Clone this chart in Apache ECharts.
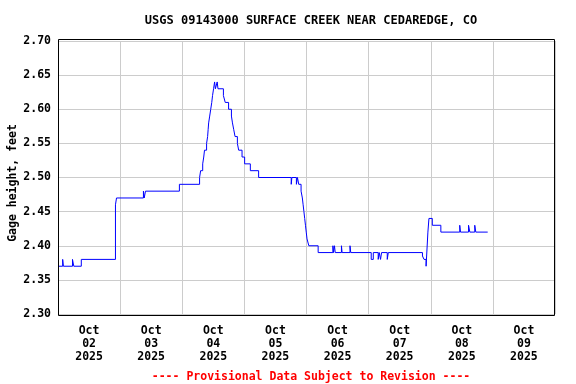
<!DOCTYPE html>
<html>
<head>
<meta charset="utf-8">
<script src="https://cdn.jsdelivr.net/npm/echarts@6/dist/echarts.min.js"></script>
<style>html,body{margin:0;padding:0;background:#fff}#c{width:576px;height:384px}</style>
</head>
<body>
<div id="c"></div>
<script>
const dayLabels = ['Oct\n02\n2025','Oct\n03\n2025','Oct\n04\n2025','Oct\n05\n2025','Oct\n06\n2025','Oct\n07\n2025','Oct\n08\n2025','Oct\n09\n2025'];
const yTicks = [2.30, 2.35, 2.40, 2.45, 2.50, 2.55, 2.60, 2.65, 2.70];
// hours since Oct 02 2025 00:00, gage height (ft)
const hours = [0,1.8,2.1,5.6,6.1,9.0,22.2,22.6,33.0,33.3,33.8,46.9,54.7,55.1,55.9,56.3,56.6,57.4,57.8,58.0,58.2,58.6,59.0,59.4,59.7,60.1,60.5,60.8,61.5,61.8,63.9,64.6,65.9,67.0,67.4,67.9,68.4,69.3,69.8,71.1,72.1,74.3,77.5,90.1,90.35,92.1,92.5,93.0,93.9,94.4,94.7,95.0,95.3,95.6,95.9,96.2,96.9,100.5,106.2,106.45,106.8,107.1,109.5,109.75,112.8,113.1,121.0,121.8,123.7,124.1,124.6,125.0,127.2,127.6,140.8,141.4,142.2,142.9,143.3,144.6,147.9,155.2,155.5,158.6,159.1,161.0,161.4,166.0];
const heights = [2.37,2.38,2.37,2.38,2.37,2.38,2.46,2.47,2.48,2.47,2.48,2.49,2.50,2.51,2.52,2.53,2.54,2.55,2.56,2.57,2.58,2.59,2.60,2.61,2.62,2.63,2.64,2.63,2.64,2.63,2.62,2.61,2.60,2.59,2.58,2.57,2.56,2.55,2.54,2.53,2.52,2.51,2.50,2.49,2.50,2.49,2.50,2.49,2.48,2.47,2.46,2.45,2.44,2.43,2.42,2.41,2.40,2.39,2.40,2.39,2.40,2.39,2.40,2.39,2.40,2.39,2.38,2.39,2.38,2.39,2.38,2.39,2.38,2.39,2.385,2.38,2.37,2.42,2.44,2.43,2.42,2.43,2.42,2.43,2.42,2.43,2.42,2.42];
const titleText = 'USGS 09143000 SURFACE CREEK NEAR CEDAREDGE, CO';
const footerText = '---- Provisional Data Subject to Revision ----';
const yName = 'Gage height, feet';

const font = 'DejaVu Sans Mono';
const chart = echarts.init(document.getElementById('c'), null, {renderer: 'canvas'});
const G = {left: 58, right: 21, top: 41, bottom: 70};
chart.setOption({
  animation: false,
  backgroundColor: '#fff',
  title: [
    {text: titleText, left: 306, top: 10, textAlign: 'center',
     textStyle: {fontFamily: font, fontWeight: 'bold', fontSize: 12, color: '#000'}},
    {text: footerText, left: 306, top: 366, textAlign: 'center',
     textStyle: {fontFamily: font, fontWeight: 'bold', fontSize: 11.5, color: '#ff0000'}}
  ],
  grid: {left: G.left, right: G.right, top: G.top, bottom: G.bottom, show: false},
  xAxis: [
    {type: 'category', data: dayLabels, boundaryGap: true,
     axisLine: {show: false}, axisTick: {show: false},
     splitLine: {show: true, interval: 0, lineStyle: {color: '#cccccc', width: 1}},
     axisLabel: {interval: 0, margin: 11, fontFamily: font, fontWeight: 'bold', fontSize: 11.5, lineHeight: 13, color: '#000'}},
    {type: 'value', min: 0, max: 192, show: false}
  ],
  yAxis: {
    type: 'value', min: 2.30, max: 2.70, interval: 0.05,
    axisLine: {show: false}, axisTick: {show: false},
    splitLine: {show: true, lineStyle: {color: '#cccccc', width: 1}},
    axisLabel: {margin: 7, fontFamily: font, fontWeight: 'bold', fontSize: 11.5, color: '#000',
      formatter: v => { const t = yTicks.find(x => Math.abs(x - v) < 1e-6); return t === undefined ? '' : t.toFixed(2); }}
  },
  graphic: [
    {type: 'rect', shape: {x: 58.5, y: 39.5, width: 496, height: 276}, style: {fill: 'none', stroke: '#000', lineWidth: 1}, z: 100, silent: true},
    {type: 'text', x: 13, y: 183, rotation: Math.PI / 2,
     style: {text: yName, fontFamily: font, fontWeight: 'bold', fontSize: 11.5, fill: '#000', textAlign: 'center', textVerticalAlign: 'middle'}}
  ],
  series: [{
    type: 'line', xAxisIndex: 1, step: 'end', symbol: 'none', sampling: 'none',
    data: hours.map((h, i) => [h, heights[i]]),
    lineStyle: {color: '#0000ff', width: 1}
  }]
});
</script>
</body>
</html>
